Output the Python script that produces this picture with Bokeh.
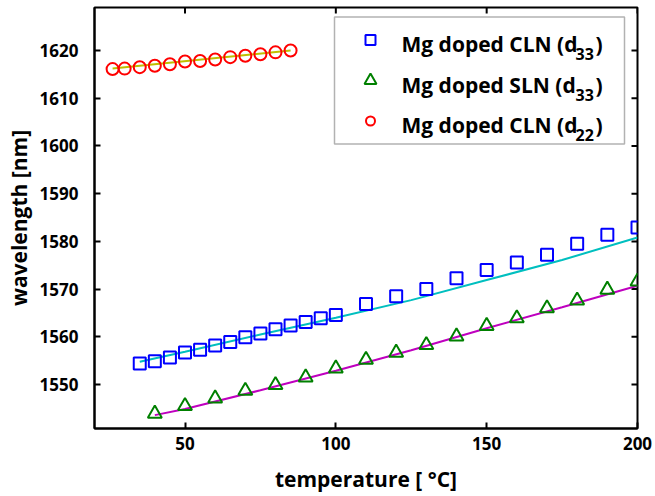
import numpy as np
from bokeh.plotting import figure
from bokeh.models import Range1d, FixedTicker, Label, BoxAnnotation
from bokeh.embed import file_html
from bokeh.resources import INLINE

# ---------------- data ----------------
cln33_t = [35, 40, 45, 50, 55, 60, 65, 70, 75, 80, 85, 90, 95, 100,
           110, 120, 130, 140, 150, 160, 170, 180, 190, 200]
cln33_wl = [1554.4, 1554.9, 1555.7, 1556.7, 1557.3, 1558.2, 1558.9, 1559.9,
            1560.7, 1561.6, 1562.4, 1563.1, 1563.9, 1564.6, 1566.9, 1568.5,
            1570.0, 1572.3, 1574.0, 1575.6, 1577.2, 1579.5, 1581.4, 1582.9]

sln33_t = [40, 50, 60, 70, 80, 90, 100, 110, 120, 130, 140, 150, 160, 170, 180, 190, 200]
sln33_wl = [1543.9, 1545.5, 1547.1, 1548.7, 1549.9, 1551.5, 1553.4, 1555.2,
            1556.7, 1558.3, 1560.1, 1562.3, 1563.9, 1566.0, 1567.6, 1569.9, 1571.6]

cln22_t = [26, 30, 35, 40, 45, 50, 55, 60, 65, 70, 75, 80, 85]
cln22_wl = [1616.1, 1616.2, 1616.5, 1616.8, 1617.1, 1617.7, 1617.8, 1618.1,
            1618.6, 1618.9, 1619.2, 1619.6, 1620.0]

fit_cln33_t = [35, 50, 75, 100, 125, 150, 175, 200]
fit_cln33_wl = [1554.8, 1556.9, 1560.5, 1564.0, 1567.7, 1571.9, 1576.1, 1580.8]

fit_sln33_t = [40, 50, 75, 100, 125, 150, 175, 200]
fit_sln33_wl = [1543.6, 1544.9, 1548.8, 1552.9, 1557.2, 1561.8, 1566.2, 1570.7]

fit_cln22_t = [26, 85]
fit_cln22_wl = [1616.2, 1620.0]

x_ticks = [50, 100, 150, 200]
y_ticks = [1550, 1560, 1570, 1580, 1590, 1600, 1610, 1620]

legend_labels = ["Mg doped CLN (d", "Mg doped SLN (d", "Mg doped CLN (d"]
legend_subs = ["33", "33", "22"]

# ---------------- layout ----------------
X0, X1 = 20, 200
Y0, Y1 = 1540.8, 1629
FL, FT, FW, FH = 94, 7, 543, 421
FONT = "Open Sans"

def px2x(px):
    return X0 + (px - FL) * (X1 - X0) / FW

def py2y(py):
    return Y1 - (py - FT) * (Y1 - Y0) / FH

p = figure(output_backend="svg", toolbar_location=None,
           x_range=Range1d(X0, X1), y_range=Range1d(Y0, Y1),
           frame_width=FW, frame_height=FH,
           min_border_left=FL, min_border_top=FT,
           min_border_right=655 - FL - FW, min_border_bottom=496 - FT - FH)
p.title.visible = False
p.background_fill_color = "white"
p.border_fill_color = "white"
p.xgrid.visible = False
p.ygrid.visible = False
p.outline_line_color = "black"
p.outline_line_width = 2

def style_axis(ax, ticks):
    ax.ticker = FixedTicker(ticks=ticks)
    ax.axis_line_color = "black"
    ax.axis_line_width = 2
    ax.major_tick_in = 6
    ax.major_tick_out = 0
    ax.major_tick_line_width = 2
    ax.minor_tick_line_color = None
    ax.major_label_text_font = FONT
    ax.major_label_text_font_style = "bold"
    ax.major_label_text_font_size = "17px"
    ax.major_label_text_color = "black"
    ax.axis_label_text_font = FONT
    ax.axis_label_text_font_style = "bold"
    ax.axis_label_text_font_size = "21px"
    ax.axis_label_text_color = "black"

style_axis(p.xaxis[0], x_ticks)
style_axis(p.yaxis[0], y_ticks)
p.xaxis[0].major_label_standoff = 8
p.yaxis[0].major_label_standoff = 16
p.xaxis[0].axis_label = "temperature [ °C]"
p.yaxis[0].axis_label = "wavelength [nm]"
p.xaxis[0].axis_label_standoff = 12
p.yaxis[0].axis_label_standoff = 4

# inward ticks on the top and right edges of the box
p.scatter([X1] * len(y_ticks), y_ticks, marker="dash", size=12,
          line_color="black", line_width=2)
p.scatter(x_ticks, [Y1] * len(x_ticks), marker="dash", size=12, angle=np.pi / 2,
          line_color="black", line_width=2)

# fit lines
p.line(fit_cln33_t, fit_cln33_wl, line_color="#00BFBF", line_width=2)
p.line(fit_sln33_t, fit_sln33_wl, line_color="#BF00BF", line_width=2)
p.line(fit_cln22_t, fit_cln22_wl, line_color="#BFBF00", line_width=2)

# data markers
p.scatter(cln33_t, cln33_wl, marker="square", size=12, fill_color=None,
          line_color="#0000FF", line_width=2)
p.scatter(sln33_t, sln33_wl, marker="triangle", size=14, fill_color=None,
          line_color="#008000", line_width=2)
p.scatter(cln22_t, cln22_wl, marker="circle", size=12, fill_color=None,
          line_color="#FF0000", line_width=2)

# legend
p.add_layout(BoxAnnotation(left=px2x(334), right=px2x(624),
                           top=py2y(16.5), bottom=py2y(143.5),
                           fill_color=None, line_color="black", line_width=1.5))
row_py = [39.5, 80, 120.5]
markers = [("square", "#0000FF", 10), ("triangle", "#008000", 12), ("circle", "#FF0000", 9)]
for i, (mk, col, sz) in enumerate(markers):
    p.scatter([px2x(370)], [py2y(row_py[i])], marker=mk, size=sz,
              fill_color=None, line_color=col, line_width=2)
    base = row_py[i] + 4
    p.add_layout(Label(x=px2x(401), y=py2y(base), text=legend_labels[i],
                       text_font=FONT, text_font_style="bold",
                       text_font_size="21px", text_baseline="alphabetic",
                       text_color="black"))
    p.add_layout(Label(x=px2x(575), y=py2y(base + 10), text=legend_subs[i],
                       text_font=FONT, text_font_style="bold",
                       text_font_size="16px", text_baseline="alphabetic",
                       text_color="black"))
    p.add_layout(Label(x=px2x(595), y=py2y(base), text=")",
                       text_font=FONT, text_font_style="bold",
                       text_font_size="21px", text_baseline="alphabetic",
                       text_color="black"))

open("out.html", "w").write(file_html(p, INLINE))
